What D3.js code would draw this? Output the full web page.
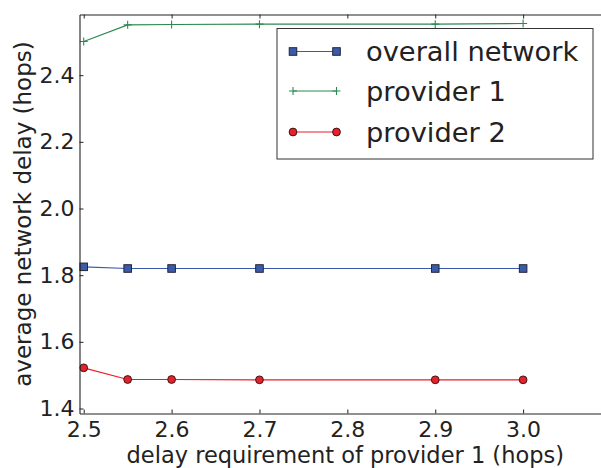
<!DOCTYPE html>
<html>
<head>
<meta charset="utf-8">
<script src="https://cdn.jsdelivr.net/npm/d3@7"></script>
<style>
  html, body { margin: 0; padding: 0; background: #fff; }
  svg { display: block; font-family: "DejaVu Sans", sans-serif; }
</style>
</head>
<body>
<svg id="chart" width="601" height="468"></svg>
<script>
// Delay requirement of provider 1 (x) and resulting average delays
const delayRequirement = [2.5, 2.55, 2.6, 2.7, 2.9, 3.0];
const overallNetwork   = [1.825, 1.820, 1.820, 1.820, 1.820, 1.820];
const provider1        = [2.501, 2.551, 2.552, 2.553, 2.553, 2.555];
const provider2        = [1.522, 1.487, 1.487, 1.486, 1.486, 1.486];

const xTicks = [2.5, 2.6, 2.7, 2.8, 2.9, 3.0];
const yTicks = [1.4, 1.6, 1.8, 2.0, 2.2, 2.4];

const seriesNames = ["overall network", "provider 1", "provider 2"];
const seriesColors = ["#3b5ba9", "#2b8a50", "#e8202a"];
const seriesMarkers = ["square", "plus", "circle"];
const seriesValues = [overallNetwork, provider1, provider2];

const svg = d3.select("#chart");
const plot = { left: 79.5, top: 14.5, right: 611, bottom: 413.5 };

const x = d3.scaleLinear().domain([2.4952, 3.1]).range([plot.left, plot.right]);
const y = d3.scaleLinear().domain([1.385, 2.582]).range([plot.bottom, plot.top]);

const ink = "#222";

// Series lines and markers
const line = d3.line().x(d => x(d[0])).y(d => y(d[1]));

function drawMarker(g, kind, cx, cy, color) {
  if (kind === "square") {
    g.append("rect").attr("x", cx - 3.8).attr("y", cy - 3.8)
      .attr("width", 7.6).attr("height", 7.6)
      .attr("fill", color).attr("stroke", "#1a1a2a").attr("stroke-width", 0.9);
  } else if (kind === "circle") {
    g.append("circle").attr("cx", cx).attr("cy", cy).attr("r", 3.9)
      .attr("fill", color).attr("stroke", "#2a1010").attr("stroke-width", 0.9);
  } else {
    g.append("path")
      .attr("d", `M${cx - 4},${cy}H${cx + 4}M${cx},${cy - 4}V${cy + 4}`)
      .attr("stroke", color).attr("stroke-width", 1.1).attr("fill", "none");
  }
}

const dataLayer = svg.append("g");
seriesValues.forEach((vals, i) => {
  const pts = delayRequirement.map((xv, j) => [xv, vals[j]]);
  dataLayer.append("path").datum(pts)
    .attr("d", line).attr("fill", "none")
    .attr("stroke", seriesColors[i]).attr("stroke-width", 1.2);
  const mg = dataLayer.append("g");
  pts.forEach(p => drawMarker(mg, seriesMarkers[i], x(p[0]), y(p[1]), seriesColors[i]));
});

// Axes: ticks pointing inward, frame spines
const xAxisB = d3.axisBottom(x).tickValues(xTicks).tickFormat(d3.format(".1f")).tickSizeInner(-4).tickSizeOuter(0).tickPadding(7.5);
const xAxisT = d3.axisTop(x).tickValues(xTicks).tickFormat("").tickSizeInner(-4).tickSizeOuter(0);
const yAxisL = d3.axisLeft(y).tickValues(yTicks).tickFormat(d3.format(".1f")).tickSizeInner(-4).tickSizeOuter(0).tickPadding(5);

function styleAxis(g) {
  g.select(".domain").attr("stroke", ink).attr("stroke-width", 1.1);
  g.selectAll(".tick line").attr("stroke", ink).attr("stroke-width", 1);
  g.selectAll(".tick text").attr("fill", ink).attr("font-size", 22)
    .attr("font-family", "DejaVu Sans, sans-serif");
}

svg.append("g").attr("transform", `translate(0,${plot.bottom})`).call(xAxisB).call(styleAxis);
svg.append("g").attr("transform", `translate(0,${plot.top})`).call(xAxisT).call(styleAxis);
svg.append("g").attr("transform", `translate(${plot.left},0)`).call(yAxisL).call(styleAxis);

// Axis titles
svg.append("text")
  .attr("x", (plot.left + plot.right) / 2).attr("y", 463)
  .attr("text-anchor", "middle").attr("font-size", 22.5).attr("fill", ink)
  .text("delay requirement of provider 1 (hops)");

svg.append("text")
  .attr("transform", `translate(31,${(plot.top + plot.bottom) / 2}) rotate(-90)`)
  .attr("text-anchor", "middle").attr("font-size", 23).attr("fill", ink)
  .text("average network delay (hops)");

// Legend
const legend = svg.append("g");
legend.append("rect")
  .attr("x", 277).attr("y", 28.5).attr("width", 316).attr("height", 130.5)
  .attr("fill", "#fff").attr("stroke", "#333").attr("stroke-width", 1);

const rowY = [51.5, 91, 132];
seriesNames.forEach((name, i) => {
  const cy = rowY[i];
  legend.append("line").attr("x1", 293).attr("x2", 336.5)
    .attr("y1", cy).attr("y2", cy)
    .attr("stroke", seriesColors[i]).attr("stroke-width", 1.2);
  drawMarker(legend, seriesMarkers[i], 293, cy, seriesColors[i]);
  drawMarker(legend, seriesMarkers[i], 336.5, cy, seriesColors[i]);
  legend.append("text").attr("x", 366).attr("y", cy + 9.5)
    .attr("font-size", 27.3).attr("fill", ink).text(name);
});
</script>
</body>
</html>
